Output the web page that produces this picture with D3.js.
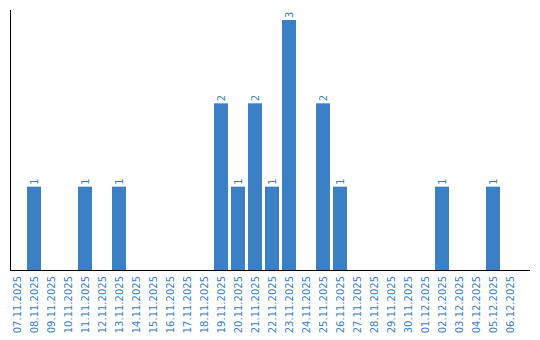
<!DOCTYPE html>
<html>
<head>
<meta charset="utf-8">
<script src="https://cdn.jsdelivr.net/npm/d3@7"></script>
<style>
  body { margin: 0; background: #fff; }
  svg text { font-family: "DejaVu Sans", Verdana, sans-serif; }
</style>
</head>
<body>
<div id="chart"></div>
<script>
// days shown on the x axis
var dates = ["07.11.2025","08.11.2025","09.11.2025","10.11.2025","11.11.2025","12.11.2025",
  "13.11.2025","14.11.2025","15.11.2025","16.11.2025","17.11.2025","18.11.2025",
  "19.11.2025","20.11.2025","21.11.2025","22.11.2025","23.11.2025","24.11.2025",
  "25.11.2025","26.11.2025","27.11.2025","28.11.2025","29.11.2025","30.11.2025",
  "01.12.2025","02.12.2025","03.12.2025","04.12.2025","05.12.2025","06.12.2025"];
var counts = [0,1,0,0,1,0, 1,0,0,0,0,0, 2,1,2,1,3,0, 2,1,0,0,0,0, 0,1,0,0,1,0];

var width = 540, height = 340;
var blue = "#3b7fc4";

var svg = d3.select("#chart")
    .append("svg")
    .attr("width", width)
    .attr("height", height);

var xscl = d3.scaleBand()
    .domain(dates)
    .range([10, 517])
    .paddingInner(3/17)
    .paddingOuter(0);

var yscl = d3.scaleLinear()
    .domain([0, 3.12])
    .range([270, 10]);

// bars
svg.selectAll("rect.bar")
    .data(dates)
    .enter()
    .filter(function(d, i) { return counts[i] > 0; })
    .append("rect")
    .attr("class", "bar")
    .attr("x", function(d) { return xscl(d); })
    .attr("y", function(d) { return yscl(counts[dates.indexOf(d)]); })
    .attr("width", xscl.bandwidth())
    .attr("height", function(d) { return yscl(0) - yscl(counts[dates.indexOf(d)]); })
    .attr("fill", blue);

// value labels on top of bars
svg.selectAll("text.val")
    .data(dates.filter(function(d, i) { return counts[i] > 0; }))
    .enter()
    .append("text")
    .attr("class", "val")
    .attr("transform", function(d) {
      var cx = xscl(d) + xscl.bandwidth() / 2;
      var cy = yscl(counts[dates.indexOf(d)]) - 2;
      return "translate(" + (cx + 3.5) + "," + cy + ") rotate(-90)";
    })
    .attr("font-size", "10px")
    .attr("fill", blue)
    .text(function(d) { return counts[dates.indexOf(d)]; });

// x axis
var xAxis = svg.append("g")
    .attr("transform", "translate(0,270)")
    .call(d3.axisBottom(xscl).tickSize(0).tickPadding(0));
xAxis.select(".domain").remove();
xAxis.selectAll("text")
    .attr("font-size", "10px")
    .attr("fill", blue)
    .attr("text-anchor", "end")
    .attr("dy", null)
    .attr("y", 0)
    .attr("transform", "translate(3.5,6) rotate(-90)");

svg.append("line")
    .attr("x1", 10).attr("x2", 530)
    .attr("y1", 270.5).attr("y2", 270.5)
    .attr("stroke", "#000");

svg.append("line")
    .attr("x1", 10.5).attr("x2", 10.5)
    .attr("y1", 10).attr("y2", 271)
    .attr("stroke", "#000");
</script>
</body>
</html>
